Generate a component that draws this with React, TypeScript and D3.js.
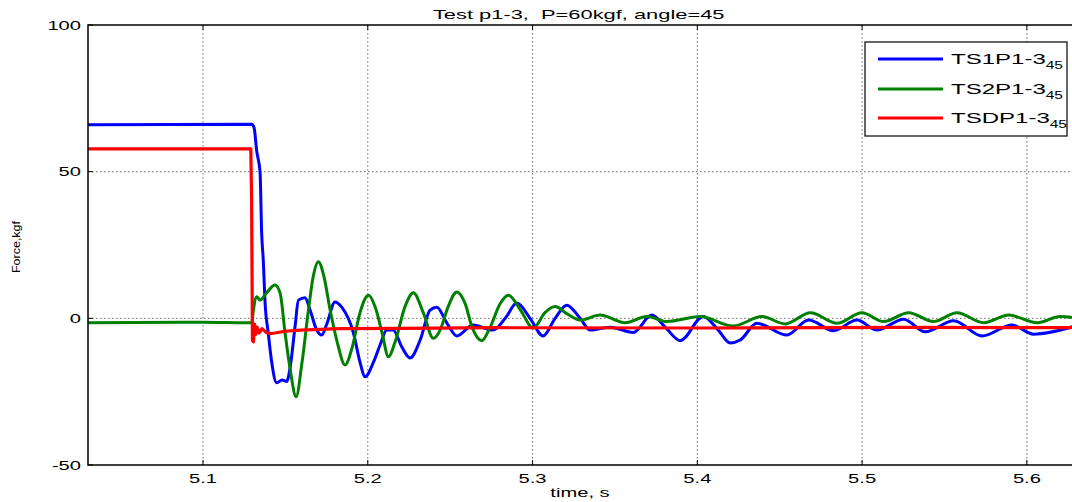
import React from "react";
import * as d3 from "d3";

const TITLE = "Test p1-3,  P=60kgf, angle=45";
const X_LABEL = "time, s";
const Y_LABEL = "Force,kgf";
const X_DOMAIN = [5.0302, 5.628];
const Y_DOMAIN = [-50, 100];
const X_TICKS = [5.1, 5.2, 5.3, 5.4, 5.5, 5.6];
const Y_TICKS = [-50, 0, 50, 100];
const Y_GRID = [0, 50];
const SERIES_NAMES = ["TS1P1-3", "TS2P1-3", "TSDP1-3"];
const SERIES_SUB = "45";
const SERIES_COLORS = ["#0000ff", "#008000", "#ff0000"];

// TS1P1-3 (blue)
const TS1_T = [5.0302, 5.1296, 5.131, 5.1326, 5.1346, 5.1356, 5.1366, 5.1376, 5.1396, 5.1417, 5.1447, 5.148, 5.1508, 5.1528, 5.1559, 5.1579, 5.1619, 5.165, 5.169, 5.1721, 5.1751, 5.1801, 5.1842, 5.1913, 5.1953, 5.1984, 5.2034, 5.2075, 5.2115, 5.2154, 5.2206, 5.2257, 5.2318, 5.2378, 5.2419, 5.248, 5.254, 5.2639, 5.2761, 5.2834, 5.2905, 5.2985, 5.3064, 5.3137, 5.3208, 5.3289, 5.335, 5.3471, 5.3611, 5.3724, 5.3805, 5.3896, 5.4036, 5.4127, 5.42, 5.426, 5.4362, 5.4544, 5.4675, 5.4827, 5.4969, 5.509, 5.5252, 5.5384, 5.5556, 5.5728, 5.591, 5.6041, 5.6282];
const TS1_V = [66.0, 66.2, 65, 57, 50, 29, 19.6, 6, -5, -15, -22, -21, -21.5, -17, -2.6, 6.2, 7, 2.8, -4, -5.7, -2, 5.6, 3.8, -5, -15, -19.9, -15, -9, -4, -4, -9.7, -13.5, -7.4, 2.8, 3.8, -1.6, -6, -2.3, -4, 0, 5.2, 0, -6, 0, 4.5, 0, -4, -3, -4.8, 1.1, -3, -7.6, 0.6, -4, -8.4, -7.4, -1.7, -5.7, -0.6, -4.2, -0.6, -4, -0.3, -4.6, -0.8, -6, -2.3, -5.4, -2.8];

// TS2P1-3 (green)
const TS2_T = [5.0302, 5.1, 5.1296, 5.1304, 5.1326, 5.1346, 5.1383, 5.1437, 5.1468, 5.1498, 5.1528, 5.1565, 5.1601, 5.1638, 5.1668, 5.17, 5.1735, 5.1771, 5.1814, 5.1862, 5.1905, 5.1953, 5.2004, 5.205, 5.2087, 5.2125, 5.2166, 5.2226, 5.2277, 5.2336, 5.2398, 5.2439, 5.2488, 5.254, 5.2591, 5.2633, 5.2692, 5.2743, 5.2803, 5.2854, 5.2925, 5.3004, 5.3077, 5.3137, 5.321, 5.3289, 5.341, 5.3562, 5.3694, 5.3815, 5.4018, 5.4218, 5.4392, 5.4534, 5.4686, 5.4848, 5.4999, 5.5131, 5.5282, 5.5434, 5.5576, 5.5738, 5.589, 5.6062, 5.6203, 5.6282];
const TS2_V = [-1.5, -1.3, -1.5, 2, 7.4, 6.2, 8.5, 11.4, 8.6, -5, -17, -26.7, -15, 2, 14, 19.3, 14, 3, -8, -15.9, -10, 2, 7.9, 3, -5, -13.1, -8, 4, 8.7, 2, -6.8, -4, 4, 9, 5, -3, -7.6, -3, 5, 7.9, 3, -3.3, 2, 4, 1.5, -0.6, 1.1, -1.5, 0.6, -1.1, 0.6, -2.6, 0.6, -1.9, 1.9, -1.7, 1.9, -1.1, 1.9, -1.1, 1.9, -1.5, 1.1, -1.5, 0.6, 0.2];

// TSDP1-3 (red)
const TSD_T = [5.0302, 5.129, 5.1295, 5.13, 5.1306, 5.1313, 5.1319, 5.1328, 5.134, 5.1358, 5.1383, 5.1407, 5.1437, 5.1498, 5.1589, 5.1832, 5.2196, 5.2803, 5.4018, 5.5232, 5.6282];
const TSD_V = [57.8, 57.8, 40, -7.5, -8, -2, -5.5, -3, -5, -3.5, -4.8, -5.2, -5, -4.4, -4, -3.5, -3.4, -3.2, -3.3, -3.1, -3.2];

const W = 1072;
const H = 502;
const PL = 88, PR = 1073, PT = 25, PB = 465;
const SX = 1.55;
const FONT = "'Liberation Sans', Arial, Helvetica, sans-serif";

export default function App() {
  const x = d3.scaleLinear().domain(X_DOMAIN).range([PL, PR]);
  const y = d3.scaleLinear().domain(Y_DOMAIN).range([PB, PT]);

  const mk = (ts: number[], vs: number[], curve: any) =>
    d3
      .line<number>()
      .x((_, i) => x(ts[i]))
      .y((v) => y(v))
      .curve(curve)(vs) as string;

  const series = [
    { d: mk(TS1_T, TS1_V, d3.curveMonotoneX), color: SERIES_COLORS[0], w: 3 },
    { d: mk(TS2_T, TS2_V, d3.curveMonotoneX), color: SERIES_COLORS[1], w: 3 },
    { d: mk(TSD_T, TSD_V, d3.curveLinear), color: SERIES_COLORS[2], w: 3.2 },
  ];

  const legX = 865, legY = 42, legW = 202, legH = 94;
  const legRows = [59, 89, 118];

  return (
    <svg
      width={W}
      height={H}
      style={{ position: "absolute", left: 0, top: 0, background: "#fff" }}
      fontFamily={FONT}
    >
      <defs>
        <clipPath id="plotclip">
          <rect x={PL} y={PT} width={PR - PL} height={PB - PT} />
        </clipPath>
      </defs>
      <rect x={0} y={0} width={W} height={H} fill="#fff" />
      {/* grid */}
      <g stroke="#444" strokeWidth={0.8} strokeDasharray="1.5,2.5">
        {X_TICKS.map((t) => (
          <line key={"gx" + t} x1={x(t)} x2={x(t)} y1={PT} y2={PB} />
        ))}
        {Y_GRID.map((v) => (
          <line key={"gy" + v} x1={PL} x2={PR} y1={y(v)} y2={y(v)} />
        ))}
      </g>
      {/* ticks */}
      <g stroke="#000" strokeWidth={1}>
        {X_TICKS.map((t) => (
          <g key={"tx" + t}>
            <line x1={x(t)} x2={x(t)} y1={PB} y2={PB - 5} />
            <line x1={x(t)} x2={x(t)} y1={PT} y2={PT + 5} />
          </g>
        ))}
        {Y_TICKS.map((v) => (
          <line key={"ty" + v} x1={PL} x2={PL + 5} y1={y(v)} y2={y(v)} />
        ))}
      </g>
      {/* series */}
      <g clipPath="url(#plotclip)" fill="none" strokeLinejoin="round" strokeLinecap="round">
        {series.map((s, i) => (
          <path key={i} d={s.d} stroke={s.color} strokeWidth={s.w} />
        ))}
      </g>
      {/* axes box */}
      <rect x={PL} y={PT} width={PR - PL} height={PB - PT} fill="none" stroke="#000" strokeWidth={1.5} />
      {/* tick labels */}
      <g fontSize={13} fill="#000">
        {X_TICKS.map((t) => (
          <text key={"lx" + t} transform={`translate(${x(t)},483) scale(${SX},1)`} textAnchor="middle">
            {d3.format(".1f")(t)}
          </text>
        ))}
        {Y_TICKS.map((v) => (
          <text key={"ly" + v} transform={`translate(81,${y(v) + 4.6}) scale(${SX},1)`} textAnchor="end">
            {v}
          </text>
        ))}
      </g>
      {/* axis labels */}
      <text transform={`translate(580,497) scale(${SX},1)`} textAnchor="middle" fontSize={13}>
        {X_LABEL}
      </text>
      <text transform={`translate(19.5,247) scale(0.85,1) rotate(-90)`} textAnchor="middle" fontSize={12.5}>
        {Y_LABEL}
      </text>
      {/* title */}
      <text
        transform={`translate(578.7,19) scale(1.62,1)`}
        textAnchor="middle"
        fontSize={13.5}
        style={{ whiteSpace: "pre" }}
      >
        {TITLE}
      </text>
      {/* legend */}
      <rect x={legX} y={legY} width={legW} height={legH} fill="#fff" stroke="#000" strokeWidth={1.2} />
      {SERIES_NAMES.map((n, i) => (
        <g key={"leg" + i}>
          <line x1={878} x2={943} y1={legRows[i]} y2={legRows[i]} stroke={SERIES_COLORS[i]} strokeWidth={3} />
          <text transform={`translate(951,${legRows[i] + 5}) scale(${SX},1)`} fontSize={15.5}>
            {n}
            <tspan fontSize={10} dy={5}>
              {SERIES_SUB}
            </tspan>
          </text>
        </g>
      ))}
    </svg>
  );
}
